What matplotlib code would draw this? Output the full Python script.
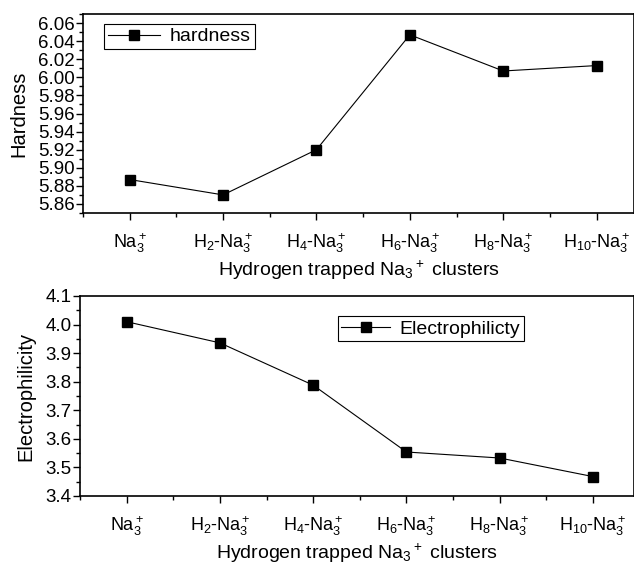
import matplotlib
matplotlib.use('Agg')
import matplotlib.pyplot as plt
from matplotlib.ticker import MultipleLocator

plt.rcParams['font.family'] = ['Liberation Sans', 'DejaVu Sans']
plt.rcParams['mathtext.fontset'] = 'custom'
plt.rcParams['mathtext.rm'] = 'Liberation Sans'
plt.rcParams['mathtext.it'] = 'Liberation Sans:italic'

# 数据
clusters = [r'Na$_3^+$', r'H$_2$-Na$_3^+$', r'H$_4$-Na$_3^+$',
            r'H$_6$-Na$_3^+$', r'H$_8$-Na$_3^+$', r'H$_{10}$-Na$_3^+$']
hardness = [5.887, 5.870, 5.920, 6.047, 6.007, 6.013]
electrophilicity = [4.010, 3.936, 3.788, 3.554, 3.533, 3.468]
xlabel = r'Hydrogen trapped Na$_3$$^+$ clusters'

fig = plt.figure(figsize=(6.34, 5.64), dpi=100)
ax1 = fig.add_axes([83 / 634, 1 - 213 / 564, 551 / 634, 199 / 564])
ax2 = fig.add_axes([80 / 634, 1 - 496 / 564, 554 / 634, 200 / 564])

x = list(range(len(clusters)))


def style(ax, ylab, ymaj, ymin):
    ax.set_xticks(x)
    ax.set_xticklabels(clusters, fontsize=13)
    ax.xaxis.set_minor_locator(MultipleLocator(0.5))
    ax.yaxis.set_major_locator(MultipleLocator(ymaj))
    ax.yaxis.set_minor_locator(MultipleLocator(ymin))
    ax.tick_params(which='major', direction='out', length=5, width=1, labelsize=13.5, pad=1)
    ax.tick_params(which='minor', direction='out', length=3, width=1)
    ax.tick_params(axis='x', which='major', pad=8, labelsize=13)
    for s in ax.spines.values():
        s.set_linewidth(1.2)
    ax.set_ylabel(ylab, fontsize=14.5, labelpad=7)
    ax.set_xlabel(xlabel, fontsize=14, labelpad=3)


ax1.plot(x, hardness, '-s', color='black', lw=0.8, ms=7, label='hardness')
ax1.set_xlim(-0.5, 5.4)
ax1.set_ylim(5.85, 6.07)
style(ax1, 'Hardness', 0.02, 0.01)
ax1.yaxis.set_major_formatter(plt.FormatStrFormatter('%.2f'))
ax1.legend(loc='upper left', bbox_to_anchor=(0.038, 0.95), fontsize=14, fancybox=False,
           edgecolor='black', framealpha=1, handlelength=2.7, borderpad=0.2,
           handletextpad=0.5, borderaxespad=0).get_frame().set_linewidth(0.8)

ax2.plot(x, electrophilicity, '-s', color='black', lw=0.8, ms=7, label='Electrophilicty')
ax2.set_xlim(-0.5, 5.44)
ax2.set_ylim(3.4, 4.1)
style(ax2, 'Electrophilicity', 0.1, 0.05)
ax2.yaxis.set_major_formatter(plt.FormatStrFormatter('%.1f'))
ax2.legend(loc='upper left', bbox_to_anchor=(0.465, 0.9), fontsize=14, fancybox=False,
           edgecolor='black', framealpha=1, handlelength=2.5, borderpad=0.2,
           handletextpad=0.5, borderaxespad=0).get_frame().set_linewidth(0.8)

plt.savefig('out.png', dpi=100)
